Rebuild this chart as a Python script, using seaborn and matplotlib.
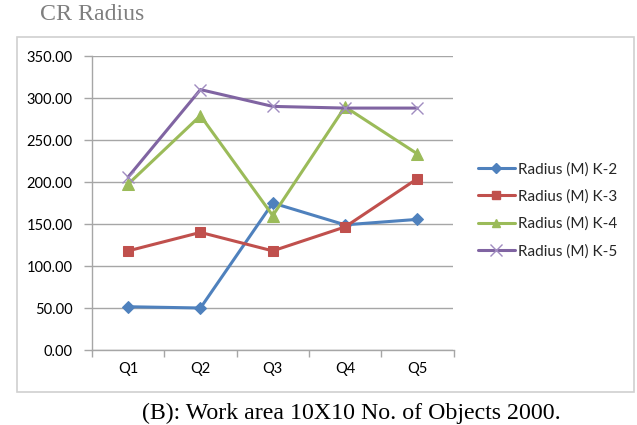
import numpy as np
import pandas as pd
import matplotlib
matplotlib.use("Agg")
import matplotlib.pyplot as plt
from matplotlib.patches import Rectangle
from matplotlib.ticker import FixedLocator
from matplotlib.lines import Line2D
import seaborn as sns

categories = ["Q1", "Q2", "Q3", "Q4", "Q5"]
k2 = [51.5, 50.0, 175.0, 149.0, 155.5]
k3 = [118.0, 140.0, 118.0, 146.5, 204.0]
k4 = [197.5, 279.0, 160.0, 289.5, 233.5]
k5 = [206.0, 310.0, 290.0, 288.0, 288.0]
series_names = ["Radius (M) K-2", "Radius (M) K-3", "Radius (M) K-4", "Radius (M) K-5"]
yticks = [0, 50, 100, 150, 200, 250, 300, 350]

colors = ["#4F81BD", "#C0504D", "#9BBB59", "#8064A2"]
markers = ["D", "s", "^", "x"]
msizes = [6.5, 7.5, 8.5, 9]

sns.set_theme(style="white")
plt.rcParams['font.family'] = ['Lato', 'DejaVu Sans']

fig = plt.figure(figsize=(6.37, 4.25), dpi=100)
ax = fig.add_axes([92/637, 1-350/425, (453.5-92)/637, (350-56)/425])

for name, vals, col, m, ms in zip(series_names, [k2, k3, k4, k5], colors, markers, msizes):
    d = pd.DataFrame({"Quarter": categories, "Radius": vals})
    if m == "x":
        kw = dict(markeredgecolor="#A08CC0", markeredgewidth=1.0)
    else:
        kw = dict(markeredgecolor=col, markerfacecolor=col)
    sns.lineplot(data=d, x="Quarter", y="Radius", color=col, marker=m, markersize=ms,
                 linewidth=2.2, sort=False, ax=ax, **kw)

ax.set_xlim(-0.5, 4.5)
ax.set_ylim(0, 350)
ax.set_yticks(yticks)
ax.set_yticklabels([f"{v:.2f}" for v in yticks], fontsize=10.5, color="black")
ax.set_xticks(range(len(categories)))
ax.set_xticklabels(categories, fontsize=10.5, color="black")
ax.xaxis.set_minor_locator(FixedLocator(np.arange(-0.5, 5.0, 1.0)))
ax.tick_params(axis="x", which="major", length=0, pad=9)
ax.tick_params(axis="x", which="minor", length=5, width=1, color="#A6A6A6", direction="out", bottom=True)
ax.tick_params(axis="y", which="major", length=6, width=1, color="#A6A6A6", direction="out", left=True, pad=8)
ax.set_xlabel("")
ax.set_ylabel("")
ax.grid(axis="y", color="#A6A6A6", linewidth=1.0)
ax.set_axisbelow(True)
for s in ["top", "right"]:
    ax.spines[s].set_visible(False)
ax.spines["left"].set_color("#A6A6A6")
ax.spines["bottom"].set_color("#A6A6A6")
ax.spines["left"].set_linewidth(1.0)
ax.spines["bottom"].set_linewidth(1.0)

handles = []
for col, m, ms in zip(colors, markers, msizes):
    if m == "x":
        h = Line2D([], [], color=col, linewidth=2.2, marker=m, markersize=ms*0.9,
                   markeredgecolor="#A08CC0", markeredgewidth=1.0)
    else:
        h = Line2D([], [], color=col, linewidth=2.2, marker=m, markersize=ms*0.75,
                   markerfacecolor=col, markeredgecolor=col)
    handles.append(h)
fig.legend(handles, series_names, loc="upper left", bbox_to_anchor=(478/637, 1-162/425),
           frameon=False, fontsize=11, handlelength=2.4, handletextpad=0.25,
           labelspacing=0.85, borderpad=0, borderaxespad=0)

fig.patches.append(Rectangle((17/637, 1-392/425), (634-17)/637, (392-36.7)/425,
                             transform=fig.transFigure, fill=False,
                             edgecolor="#D0D0D0", linewidth=1.2))

fig.text(40/637, 1-15/425, "CR Radius", fontsize=17.2, color="#7F7F7F",
         family=["Liberation Serif", "DejaVu Serif"], ha="left", va="center")
fig.text(351/637, 1-413/425, "(B): Work area 10X10 No. of Objects 2000.", fontsize=17.2,
         color="black", family=["Liberation Serif", "DejaVu Serif"], ha="center", va="center")

fig.savefig("out.png", dpi=100)
